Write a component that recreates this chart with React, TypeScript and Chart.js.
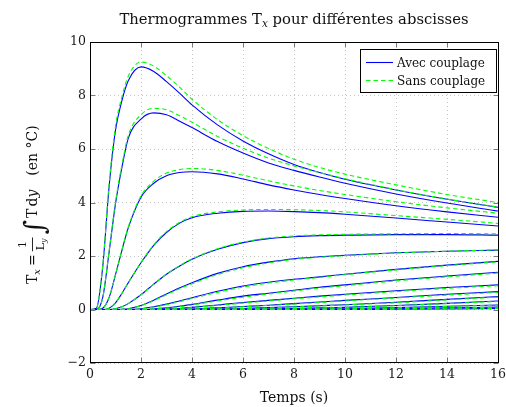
import React, { useEffect, useRef } from "react";
import { Chart, registerables } from "chart.js";
Chart.register(...registerables);

// time samples (s)
const T = [0, 0.25, 0.5, 0.75, 1, 1.25, 1.5, 2, 2.5, 3, 3.5, 4, 5, 6, 7, 8, 9, 10, 12, 14, 16];

// "Avec couplage" curves (one per abscissa)
const avec1 = [0, 0.05, 1.6, 4.6, 6.7, 7.8, 8.55, 9.07, 8.9, 8.52, 8.1, 7.65, 6.9, 6.3, 5.82, 5.42, 5.12, 4.87, 4.47, 4.12, 3.82];
const avec2 = [0, 0, 0.45, 2.15, 3.95, 5.3, 6.4, 7.12, 7.35, 7.28, 7.05, 6.8, 6.28, 5.85, 5.48, 5.2, 4.95, 4.72, 4.32, 3.98, 3.68];
const avec3 = [0, 0, 0.05, 0.45, 1.3, 2.2, 3.05, 4.2, 4.72, 5.0, 5.12, 5.15, 5.07, 4.88, 4.66, 4.47, 4.3, 4.15, 3.88, 3.65, 3.45];
const avec4 = [0, 0, 0, 0.05, 0.25, 0.6, 1.0, 1.75, 2.4, 2.88, 3.22, 3.43, 3.6, 3.67, 3.68, 3.66, 3.62, 3.56, 3.42, 3.27, 3.12];
const avec5 = [0, 0, 0, 0, 0.03, 0.1, 0.22, 0.55, 0.95, 1.32, 1.62, 1.88, 2.25, 2.5, 2.65, 2.72, 2.76, 2.78, 2.8, 2.8, 2.78];
const avec6 = [0, 0, 0, 0, 0, 0.01, 0.03, 0.15, 0.35, 0.58, 0.8, 1.0, 1.35, 1.6, 1.77, 1.9, 1.97, 2.03, 2.12, 2.18, 2.22];
const avec7 = [0, 0, 0, 0, 0, 0, 0, 0.03, 0.1, 0.2, 0.32, 0.44, 0.68, 0.88, 1.02, 1.13, 1.22, 1.32, 1.5, 1.66, 1.8];
const avec8 = [0, 0, 0, 0, 0, 0, 0, 0, 0.02, 0.06, 0.12, 0.19, 0.35, 0.5, 0.61, 0.72, 0.83, 0.92, 1.1, 1.25, 1.39];
const avec9 = [0, 0, 0, 0, 0, 0, 0, 0, 0.005, 0.02, 0.04, 0.08, 0.17, 0.26, 0.34, 0.42, 0.5, 0.57, 0.7, 0.82, 0.92];
const avec10 = [0, 0, 0, 0, 0, 0, 0, 0, 0, 0.005, 0.01, 0.02, 0.06, 0.11, 0.16, 0.22, 0.28, 0.34, 0.45, 0.57, 0.67];
const avec11 = [0, 0, 0, 0, 0, 0, 0, 0, 0, 0, 0, 0.005, 0.02, 0.04, 0.07, 0.1, 0.14, 0.18, 0.27, 0.38, 0.48];
const avec12 = [0, 0, 0, 0, 0, 0, 0, 0, 0, 0, 0, 0, 0.005, 0.01, 0.02, 0.04, 0.06, 0.08, 0.15, 0.23, 0.32];
const avec13 = [0, 0, 0, 0, 0, 0, 0, 0, 0, 0, 0, 0, 0, 0, 0.005, 0.01, 0.02, 0.03, 0.07, 0.12, 0.17];
const avec14 = [0, 0, 0, 0, 0, 0, 0, 0, 0, 0, 0, 0, 0, 0, 0, 0, 0.005, 0.01, 0.03, 0.06, 0.09];
const avec15 = [0, 0, 0, 0, 0, 0, 0, 0, 0, 0, 0, 0, 0, 0, 0, 0, 0, 0, 0.01, 0.02, 0.04];

// "Sans couplage" curves
const sans1 = [0, 0.05, 1.65, 4.7, 6.85, 7.95, 8.72, 9.25, 9.1, 8.74, 8.32, 7.86, 7.1, 6.5, 6.02, 5.62, 5.31, 5.06, 4.66, 4.3, 4.0];
const sans2 = [0, 0, 0.45, 2.2, 4.02, 5.4, 6.5, 7.28, 7.52, 7.47, 7.25, 7.0, 6.47, 6.03, 5.66, 5.37, 5.12, 4.89, 4.48, 4.13, 3.83];
const sans3 = [0, 0, 0.05, 0.45, 1.3, 2.22, 3.08, 4.25, 4.8, 5.1, 5.23, 5.27, 5.2, 5.02, 4.81, 4.62, 4.45, 4.3, 4.03, 3.8, 3.6];
const sans4 = [0, 0, 0, 0.05, 0.25, 0.6, 1.0, 1.76, 2.42, 2.91, 3.25, 3.47, 3.65, 3.72, 3.74, 3.73, 3.7, 3.65, 3.51, 3.37, 3.22];
const sans5 = [0, 0, 0, 0, 0.03, 0.1, 0.22, 0.55, 0.95, 1.32, 1.63, 1.89, 2.27, 2.52, 2.67, 2.75, 2.79, 2.81, 2.83, 2.84, 2.83];
const sans6 = [0, 0, 0, 0, 0, 0.01, 0.03, 0.14, 0.33, 0.55, 0.77, 0.96, 1.31, 1.56, 1.74, 1.87, 1.95, 2.01, 2.11, 2.18, 2.23];
const sans7 = [0, 0, 0, 0, 0, 0, 0, 0.02, 0.09, 0.18, 0.29, 0.41, 0.64, 0.84, 0.99, 1.1, 1.2, 1.3, 1.48, 1.64, 1.78];
const sans8 = [0, 0, 0, 0, 0, 0, 0, 0, 0.02, 0.05, 0.1, 0.17, 0.32, 0.46, 0.58, 0.69, 0.8, 0.89, 1.07, 1.22, 1.36];
const sans9 = [0, 0, 0, 0, 0, 0, 0, 0, 0.004, 0.015, 0.035, 0.07, 0.15, 0.24, 0.32, 0.4, 0.47, 0.54, 0.67, 0.79, 0.89];
const sans10 = [0, 0, 0, 0, 0, 0, 0, 0, 0, 0.004, 0.008, 0.018, 0.05, 0.1, 0.15, 0.2, 0.26, 0.32, 0.43, 0.54, 0.64];
const sans11 = [0, 0, 0, 0, 0, 0, 0, 0, 0, 0, 0, 0.004, 0.017, 0.035, 0.06, 0.09, 0.13, 0.17, 0.25, 0.36, 0.46];
const sans12 = [0, 0, 0, 0, 0, 0, 0, 0, 0, 0, 0, 0, 0.004, 0.008, 0.017, 0.035, 0.055, 0.075, 0.14, 0.22, 0.3];
const sans13 = [0, 0, 0, 0, 0, 0, 0, 0, 0, 0, 0, 0, 0, 0, 0.004, 0.008, 0.017, 0.027, 0.065, 0.11, 0.16];
const sans14 = [0, 0, 0, 0, 0, 0, 0, 0, 0, 0, 0, 0, 0, 0, 0, 0, 0.004, 0.008, 0.027, 0.055, 0.085];
const sans15 = [0, 0, 0, 0, 0, 0, 0, 0, 0, 0, 0, 0, 0, 0, 0, 0, 0, 0, 0.008, 0.018, 0.036];

const AVEC = [avec1, avec2, avec3, avec4, avec5, avec6, avec7, avec8, avec9, avec10, avec11, avec12, avec13, avec14, avec15];
const SANS = [sans1, sans2, sans3, sans4, sans5, sans6, sans7, sans8, sans9, sans10, sans11, sans12, sans13, sans14, sans15];

const X_TICKS = [0, 2, 4, 6, 8, 10, 12, 14, 16];
const Y_TICKS = [-2, 0, 2, 4, 6, 8, 10];

const LEGEND_LABELS = ["Avec couplage", "Sans couplage"];
const TITLE_PARTS = ["Thermogrammes T", "x", " pour différentes abscisses"];
const X_TITLE = "Temps (s)";

const BLUE = "#0000ff";
const GREEN = "#00ff00";
const FAMILY = "'DejaVu Serif', serif";
const DASH = [4.5, 3];

const decor = {
  id: "decor",
  beforeDraw(chart: any) {
    const ctx = chart.ctx;
    ctx.save();
    ctx.fillStyle = "#ffffff";
    ctx.fillRect(0, 0, chart.width, chart.height);
    ctx.restore();
  },
  afterDraw(chart: any) {
    const ctx = chart.ctx;
    const a = chart.chartArea;
    const xs = chart.scales.x;
    const ys = chart.scales.y;
    const L = Math.round(a.left) + 0.5;
    const R = Math.round(a.right) + 0.5;
    const Tp = Math.round(a.top) + 0.5;
    const B = Math.round(a.bottom) - 0.5;
    ctx.save();
    // inward tick marks
    ctx.strokeStyle = "#7a7a7a";
    ctx.lineWidth = 1;
    const tl = 5;
    ctx.beginPath();
    X_TICKS.forEach((v) => {
      const px = Math.round(xs.getPixelForValue(v)) + 0.5;
      ctx.moveTo(px, B); ctx.lineTo(px, B - tl);
      ctx.moveTo(px, Tp); ctx.lineTo(px, Tp + tl);
    });
    Y_TICKS.forEach((v) => {
      const py = Math.round(ys.getPixelForValue(v)) + 0.5;
      ctx.moveTo(L, py); ctx.lineTo(L + tl, py);
      ctx.moveTo(R, py); ctx.lineTo(R - tl, py);
    });
    ctx.stroke();
    // frame
    ctx.strokeStyle = "#000";
    ctx.lineWidth = 1;
    ctx.strokeRect(L, Tp, R - L, B - Tp);

    // legend
    const lx = 360.5, ly = 49.5, lw = 136, lh = 43;
    ctx.fillStyle = "#ffffff";
    ctx.fillRect(lx, ly, lw, lh);
    ctx.strokeStyle = "#000";
    ctx.strokeRect(lx, ly, lw, lh);
    ctx.lineWidth = 1.1;
    ctx.strokeStyle = BLUE;
    ctx.beginPath(); ctx.moveTo(366, 62.5); ctx.lineTo(393, 62.5); ctx.stroke();
    ctx.strokeStyle = GREEN;
    ctx.setLineDash(DASH);
    ctx.beginPath(); ctx.moveTo(366, 80.5); ctx.lineTo(393, 80.5); ctx.stroke();
    ctx.setLineDash([]);
    ctx.fillStyle = "#111";
    ctx.font = `12px ${FAMILY}`;
    ctx.textAlign = "left";
    ctx.textBaseline = "alphabetic";
    ctx.fillText(LEGEND_LABELS[0], 397, 67);
    ctx.fillText(LEGEND_LABELS[1], 397, 85);

    // title
    const fTitle = `14.8px ${FAMILY}`;
    const fTitleSub = `italic 10.5px ${FAMILY}`;
    ctx.font = fTitle;
    const w0 = ctx.measureText(TITLE_PARTS[0]).width;
    const w2 = ctx.measureText(TITLE_PARTS[2]).width;
    ctx.font = fTitleSub;
    const w1 = ctx.measureText(TITLE_PARTS[1]).width;
    const cx = (a.left + a.right) / 2;
    let tx = cx - (w0 + w1 + w2) / 2;
    const tb = 24;
    ctx.font = fTitle; ctx.fillText(TITLE_PARTS[0], tx, tb); tx += w0;
    ctx.font = fTitleSub; ctx.fillText(TITLE_PARTS[1], tx, tb + 3); tx += w1;
    ctx.font = fTitle; ctx.fillText(TITLE_PARTS[2], tx, tb);

    // x title
    const fMain = `14px ${FAMILY}`;
    const fSub = `italic 10px ${FAMILY}`;
    ctx.font = fMain;
    ctx.textAlign = "center";
    ctx.fillText(X_TITLE, cx, 402);

    // y title (formula), rotated
    ctx.translate(37, 284);
    ctx.rotate(-Math.PI / 2);
    ctx.textAlign = "left";
    let x = 0;
    const put = (s: string, font: string, dy: number) => {
      ctx.font = font;
      ctx.fillText(s, x, dy);
      const w = ctx.measureText(s).width;
      x += w;
      return w;
    };
    put("T", fMain, 0);
    put("x", fSub, 3);
    x += 3;
    put("=", fMain, 0);
    x += 3;
    // fraction 1 / L_y
    const fFrac = `11px ${FAMILY}`;
    const fFracSub = `italic 8px ${FAMILY}`;
    ctx.font = fFrac;
    const wOne = ctx.measureText("1").width;
    const wL = ctx.measureText("L").width;
    ctx.font = fFracSub;
    const wy = ctx.measureText("y").width;
    const wDen = wL + wy;
    const wFr = Math.max(wOne, wDen) + 2;
    const x0 = x;
    ctx.font = fFrac;
    ctx.fillText("1", x0 + (wFr - wOne) / 2, -11);
    ctx.fillText("L", x0 + (wFr - wDen) / 2, 7);
    ctx.font = fFracSub;
    ctx.fillText("y", x0 + (wFr - wDen) / 2 + wL, 9);
    ctx.fillRect(x0, -5, wFr, 0.9);
    x = x0 + wFr + 3;
    put("\u222B", `28px ${FAMILY}`, 7);
    x += 2;
    put("T", fMain, 0);
    x += 2;
    put("d", fMain, 0);
    put("y", `italic 14px ${FAMILY}`, 0);
    x += 14;
    put("(en °C)", fMain, 0);
    ctx.restore();
  },
};

export default function App() {
  const ref = useRef<HTMLCanvasElement | null>(null);
  useEffect(() => {
    document.body.style.margin = "0";
    const canvas = ref.current;
    if (!canvas) return;
    const mk = (arr: number[]) => T.map((t, i) => ({ x: t, y: arr[i] }));
    const datasets: any[] = [];
    AVEC.forEach((arr, i) => {
      datasets.push({
        label: i === 0 ? LEGEND_LABELS[0] : "",
        data: mk(arr),
        borderColor: BLUE,
        borderWidth: 1.1,
        pointRadius: 0,
        fill: false,
        cubicInterpolationMode: "monotone",
        order: 2,
      });
    });
    SANS.forEach((arr, i) => {
      datasets.push({
        label: i === 0 ? LEGEND_LABELS[1] : "",
        data: mk(arr),
        borderColor: GREEN,
        borderWidth: 1.1,
        borderDash: DASH,
        pointRadius: 0,
        fill: false,
        cubicInterpolationMode: "monotone",
        order: 1,
      });
    });
    const tickFont = { family: FAMILY, size: 12.5 };
    const chart = new Chart(canvas, {
      type: "line",
      data: { datasets },
      options: {
        animation: false,
        responsive: false,
        devicePixelRatio: 1,
        layout: { padding: { left: 0, right: 8, top: 42, bottom: 0 } },
        plugins: {
          legend: { display: false },
          title: { display: false },
          tooltip: { enabled: false },
        },
        scales: {
          x: {
            type: "linear",
            min: 0,
            max: 16,
            afterBuildTicks: (s: any) => { s.ticks = X_TICKS.map((v) => ({ value: v })); },
            ticks: { font: tickFont, color: "#1a1a1a", padding: 4, maxRotation: 0, autoSkip: false },
            grid: { color: "#c4c4c4", drawTicks: false, lineWidth: 1 },
            border: { display: false, dash: [1, 3] },
            afterFit: (s: any) => { s.height = 44; s.paddingLeft = 0; s.paddingRight = 0; },
          },
          y: {
            type: "linear",
            min: -2,
            max: 10,
            afterBuildTicks: (s: any) => { s.ticks = Y_TICKS.map((v) => ({ value: v })); },
            ticks: {
              font: tickFont,
              color: "#1a1a1a",
              padding: 4,
              callback: (v: any) => (v < 0 ? "\u2212" + Math.abs(v) : String(v)),
            },
            grid: { color: "#c4c4c4", drawTicks: false, lineWidth: 1 },
            border: { display: false, dash: [1, 3] },
            afterFit: (s: any) => { s.width = 90; s.paddingTop = 0; s.paddingBottom = 0; },
          },
        },
      },
      plugins: [decor],
    } as any);
    return () => chart.destroy();
  }, []);
  return (
    <div style={{ width: 506, height: 407 }}>
      <canvas ref={ref} width={506} height={407} style={{ display: "block" }} />
    </div>
  );
}
